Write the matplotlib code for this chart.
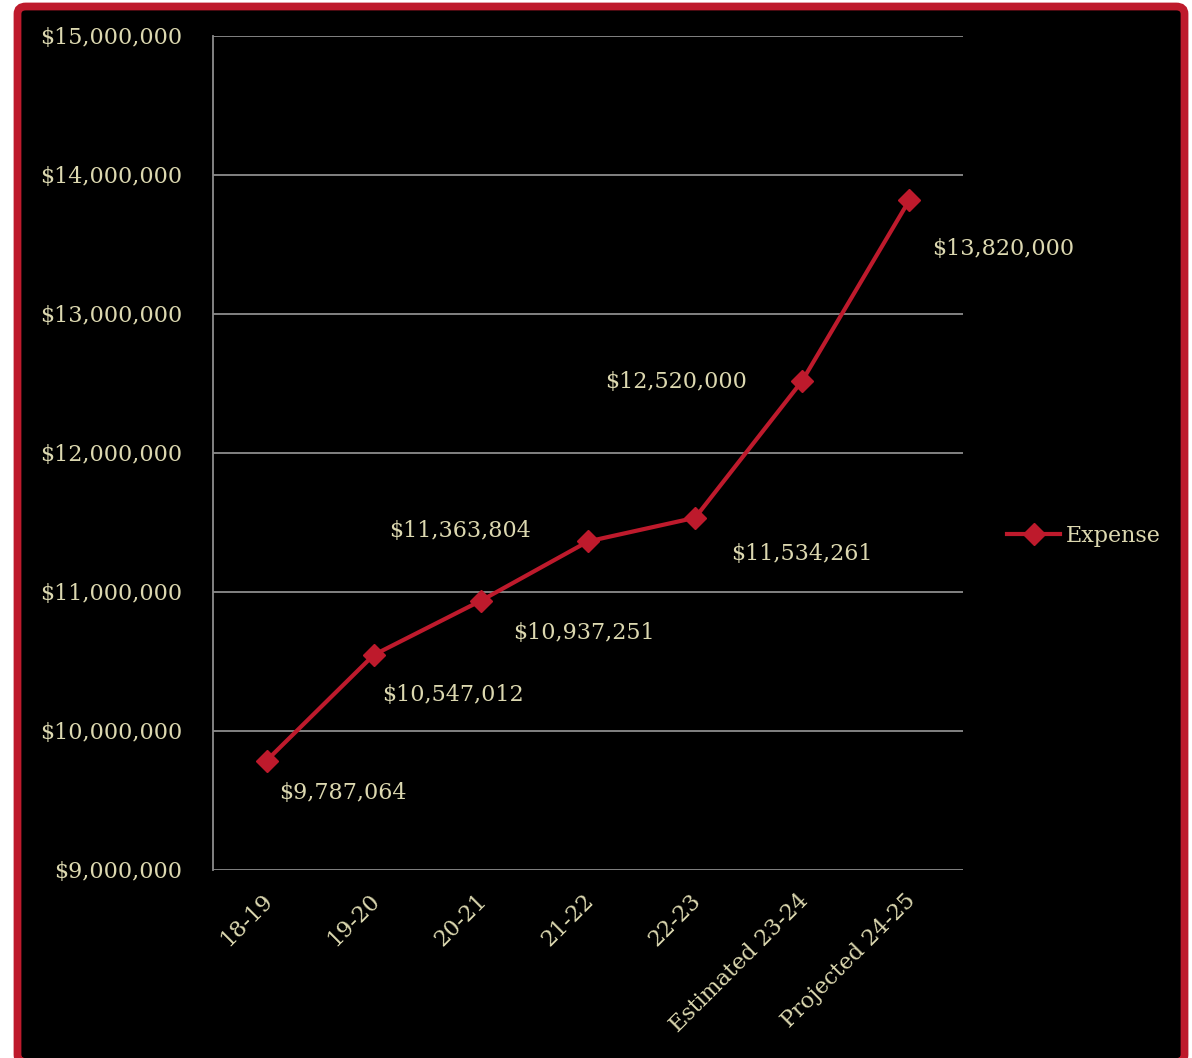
import matplotlib
matplotlib.use("Agg")
import matplotlib.pyplot as plt
import matplotlib.transforms as mtransforms
from matplotlib.patches import FancyBboxPatch
from matplotlib.ticker import FuncFormatter

# Annual expense figures
years = ["18-19", "19-20", "20-21", "21-22", "22-23", "Estimated 23-24", "Projected 24-25"]
expense = [9787064, 10547012, 10937251, 11363804, 11534261, 12520000, 13820000]

# Pixel offsets of each value label from its point (dx, dy, horizontal alignment)
label_offsets = [(13, -32, "left"), (8, -40, "left"), (32, -32, "left"),
                 (-57, 10, "right"), (36, -36, "left"), (-55, -1, "right"),
                 (23, -49, "left")]

RED = "#BE1A2C"
TEXT = "#DCD8B0"
GRID = "#8C8C8C"
FONT = "DejaVu Serif"
FS = 16

W, H = 1192, 1058
fig = plt.figure(figsize=(W / 100, H / 100), dpi=100, facecolor="white")

# Dark rounded panel with a red frame
frame = FancyBboxPatch((17.5 / W, (H - 1062) / H), (1184.5 - 17.5) / W, (1062 - 6.5) / H,
                       boxstyle="round,pad=0,rounding_size=0.007",
                       transform=fig.transFigure, facecolor="black",
                       edgecolor=RED, linewidth=5.6, zorder=-10)
fig.patches.append(frame)

ax = fig.add_axes([213 / W, 1 - 870 / H, (963 - 213) / W, (870 - 36) / H])
ax.set_facecolor("none")
ax.set_zorder(1)

x = list(range(len(years)))
line, = ax.plot(x, expense, color=RED, linewidth=3.0, marker="D",
                markersize=11, markerfacecolor=RED, markeredgecolor=RED,
                label="Expense", zorder=3, clip_on=False)

for xi, v, (dx, dy, ha) in zip(x, expense, label_offsets):
    ax.annotate(f"${v:,.0f}", (xi, v), xytext=(dx, dy), textcoords="offset pixels",
                ha=ha, va="center", color=TEXT, fontsize=FS, family=FONT)

ax.set_xlim(-0.5, len(years) - 0.5)
ax.set_ylim(9_000_000, 15_000_000)
ax.set_yticks(range(9_000_000, 15_000_001, 1_000_000))
ax.yaxis.set_major_formatter(FuncFormatter(lambda v, p: f"${v:,.0f}"))
ax.grid(axis="y", color=GRID, linewidth=1.3)
ax.set_axisbelow(True)

ax.set_xticks(x)
ax.set_xticklabels(years, rotation=45, ha="right", rotation_mode="anchor")
ax.tick_params(axis="both", length=0, colors=TEXT, labelsize=FS)
ax.tick_params(axis="y", pad=22)
ax.tick_params(axis="x", pad=14)
shift = mtransforms.ScaledTranslation(-5 / 100, 0, fig.dpi_scale_trans)
for lbl in ax.get_xticklabels():
    lbl.set_transform(lbl.get_transform() + shift)
for lbl in ax.get_xticklabels() + ax.get_yticklabels():
    lbl.set_family(FONT)
    lbl.set_color(TEXT)

for side in ("top", "right", "bottom"):
    ax.spines[side].set_visible(False)
ax.spines["left"].set_color(GRID)
ax.spines["left"].set_linewidth(1.3)

leg = ax.legend(loc="center left", bbox_to_anchor=(1.032, 0.401), frameon=False,
                handlelength=2.4, handletextpad=0.25,
                prop={"family": FONT, "size": FS})
for t in leg.get_texts():
    t.set_color(TEXT)

fig.savefig("out.png", dpi=100, facecolor="white")
